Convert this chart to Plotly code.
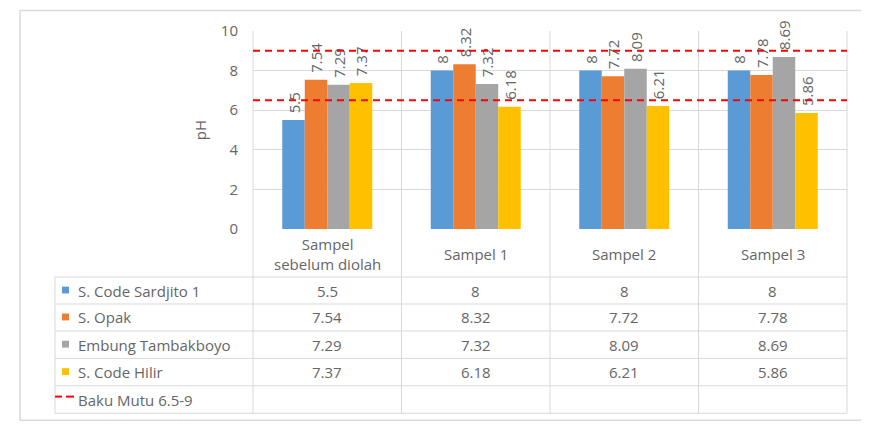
import plotly.graph_objects as go

categories = ["Sampel<br>sebelum diolah", "Sampel 1", "Sampel 2", "Sampel 3"]
series_names = ["S. Code Sardjito 1", "S. Opak", "Embung Tambakboyo", "S. Code Hilir"]
sardjito = [5.5, 8, 8, 8]
opak = [7.54, 8.32, 7.72, 7.78]
tambakboyo = [7.29, 7.32, 8.09, 8.69]
hilir = [7.37, 6.18, 6.21, 5.86]
baku_mutu = [6.5, 9]
baku_name = "Baku Mutu 6.5-9"
y_ticks = [0, 2, 4, 6, 8, 10]

colors = ["#5B9BD5", "#ED7D31", "#A5A5A5", "#FFC000"]
series = [sardjito, opak, tambakboyo, hilir]
FONT = "Open Sans, sans-serif"
FS = 15
TXT = "#666666"
GRID = "#D9D9D9"

OFF = 8  # browser body margin
W, H = 869 - OFF, 429 - OFF
L, R, T, B = 253, 847, 27, 229  # plot area in page pixels

def px(x):
    return (x - L) / (R - L)

def py(y):
    return (B - y) / (B - T)

fig = go.Figure()
xs = list(range(len(categories)))
for name, vals, c in zip(series_names, series, colors):
    fig.add_trace(go.Bar(
        x=xs, y=vals, name=name, marker=dict(color=c, line=dict(width=0)),
        text=["\u00a0" + f"{v:g}" for v in vals], textposition="outside", textangle=-90,
        textfont=dict(family=FONT, size=15, color=TXT),
        cliponaxis=False, constraintext="none", showlegend=False,
    ))

shapes = []
annotations = []

# outer border
shapes.append(dict(type="rect", xref="paper", yref="paper",
                   x0=px(20), x1=px(866), y0=py(6), y1=py(424),
                   line=dict(color=GRID, width=1.5), layer="below"))

# baku mutu lines
for v in baku_mutu:
    shapes.append(dict(type="line", xref="paper", yref="y", x0=0, x1=1, y0=v, y1=v,
                       line=dict(color="#FF0000", width=2, dash="7px,5px"), layer="above"))

# table geometry
row_edges = [278, 305.5, 333, 361, 389, 417]
table_left = 55
col_edges = [L + i * (R - L) / len(categories) for i in range(len(categories) + 1)]

for xe in col_edges:
    shapes.append(dict(type="line", xref="paper", yref="paper",
                       x0=px(xe), x1=px(xe), y0=py(T), y1=py(row_edges[-1]),
                       line=dict(color=GRID, width=1), layer="below"))
shapes.append(dict(type="line", xref="paper", yref="paper",
                   x0=px(table_left), x1=px(table_left), y0=py(row_edges[0]), y1=py(row_edges[-1]),
                   line=dict(color=GRID, width=1), layer="below"))
for ye in row_edges:
    shapes.append(dict(type="line", xref="paper", yref="paper",
                       x0=px(table_left), x1=1, y0=py(ye), y1=py(ye),
                       line=dict(color=GRID, width=1), layer="below"))

# header labels
for i, cat in enumerate(categories):
    annotations.append(dict(x=i, xref="x", y=py(254), yref="paper", text=cat, showarrow=False,
                            font=dict(family=FONT, size=FS, color=TXT), align="center",
                            xanchor="center", yanchor="middle"))

# rows
for r, (name, vals, c) in enumerate(zip(series_names, series, colors)):
    yc = (row_edges[r] + row_edges[r + 1]) / 2
    shapes.append(dict(type="rect", xref="paper", yref="paper",
                       x0=px(62), x1=px(69), y0=py(yc - 4), y1=py(yc + 3),
                       fillcolor=c, line=dict(width=0)))
    annotations.append(dict(x=px(76), xref="paper", y=py(yc), yref="paper", text=name,
                            showarrow=False, xanchor="left", yanchor="middle",
                            font=dict(family=FONT, size=FS, color=TXT)))
    for i, v in enumerate(vals):
        annotations.append(dict(x=i, xref="x", y=py(yc), yref="paper", text=f"{v:g}",
                                showarrow=False, xanchor="center", yanchor="middle",
                                font=dict(family=FONT, size=FS, color=TXT)))

yc = (row_edges[4] + row_edges[5]) / 2
for xa, xb in [(55, 62), (66, 74)]:
    shapes.append(dict(type="line", xref="paper", yref="paper",
                       x0=px(xa), x1=px(xb), y0=py(yc - 3), y1=py(yc - 3),
                       line=dict(color="#FF0000", width=2)))
annotations.append(dict(x=px(76), xref="paper", y=py(yc), yref="paper", text=baku_name,
                        showarrow=False, xanchor="left", yanchor="middle",
                        font=dict(family=FONT, size=FS, color=TXT)))

fig.update_layout(
    width=W, height=H,
    margin=dict(l=L - OFF, r=W - (R - OFF), t=T - OFF, b=H - (B - OFF), pad=0),
    paper_bgcolor="white", plot_bgcolor="white",
    barmode="group", bargap=0.394, bargroupgap=0,
    font=dict(family=FONT, size=FS, color=TXT),
    shapes=shapes, annotations=annotations,
    xaxis=dict(range=[-0.5, len(categories) - 0.5], showticklabels=False, showgrid=False,
               zeroline=False, showline=False, ticks=""),
    yaxis=dict(range=[0, 10], tickvals=y_ticks, showgrid=True, gridcolor=GRID, gridwidth=1,
               zeroline=False, showline=False, ticks="", ticklabelstandoff=14,
               tickfont=dict(family=FONT, size=FS, color=TXT),
               title=dict(text="pH", standoff=10, font=dict(family=FONT, size=FS, color=TXT))),
)

fig.write_html("out.html")
